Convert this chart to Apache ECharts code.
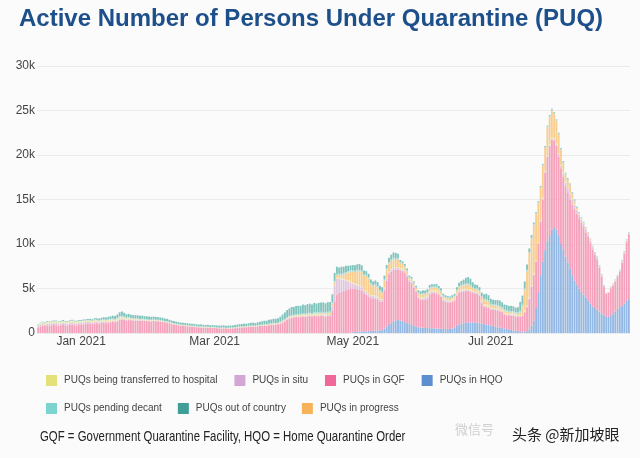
<!DOCTYPE html>
<html>
<head>
<meta charset="utf-8">
<script src="https://cdn.jsdelivr.net/npm/echarts@6/dist/echarts.min.js"></script>
<style>
html,body{margin:0;padding:0;background:#fbfbfb;}
#chart{width:640px;height:458px;}
</style>
</head>
<body>
<div id="chart"></div>
<script>
// ---- data (daily, starting 2020-12-13) ----
const startDate = '2020-12-13';

const hqo = [
0,0,0,0,0,0,0,0,0,0,0,0,0,0,0,0,0,0,0,0,
0,0,0,0,0,0,0,0,0,0,0,0,0,0,0,0,0,0,0,0,
0,0,0,0,0,0,0,0,0,0,0,0,0,0,0,0,0,0,0,0,
0,0,0,0,0,0,0,0,0,0,0,0,0,0,0,0,0,0,0,0,
0,0,0,0,0,0,0,0,0,0,0,0,0,0,0,0,0,0,0,0,
0,0,0,0,0,0,0,0,0,0,0,0,0,0,0,0,0,0,0,0,
0,0,0,0,0,0,0,0,0,0,0,0,0,0,0,0,0,0,
50,80,100,120,150,150,180,200,200,220,250,250,280,300,350,500,700,900,1100,1300,
1400,1450,1400,1350,1250,1150,1000,900,800,700,650,600,600,580,560,550,530,520,500,480,
470,450,440,440,460,500,600,800,950,1050,1100,1150,1200,1200,1200,1150,1150,1100,1050,1000,
950,900,850,800,700,650,600,550,500,450,400,350,300,250,200,
100,100,100,200,400,800,1400,2800,4500,6500,8000,9300,10300,11000,11600,11900,11600,11000,10000,9400,
8600,7900,7200,6500,5900,5400,5000,4600,4300,4000,3600,3300,3000,2800,2600,2400,2200,2000,1800,1800,
1900,2100,2400,2700,2900,3100,3300,3600,3800
];

const gqf = [
620,750,800,780,850,820,880,900,860,830,870,900,880,850,900,920,880,860,900,
950,980,1000,1020,1050,1000,1080,1100,1050,1120,1150,1100,1180,1200,1250,1220,1300,1450,1500,1480,1400,1450,
1420,1400,1380,1400,1350,1380,1360,1340,1320,1300,1350,1320,1300,1280,1250,1200,1150,1100,1000,950,
900,850,820,800,780,750,720,700,680,650,640,620,600,600,580,560,580,
560,540,520,500,520,500,480,500,520,540,580,600,620,650,640,680,700,720,700,740,
780,800,850,820,880,900,950,920,980,1050,1150,
1300,1500,1650,1700,1750,1800,1780,1820,1850,1800,1880,1900,1850,1920,1900,1880,1950,1900,1850,1900,1880,
2500,3500,4300,4500,4600,4700,4800,4900,4950,4900,4850,4800,4750,4600,4200,4100,3900,3700,3650,3600,
3500,3250,3150,4300,5200,5700,5800,5800,5700,5650,5600,5600,5500,5200,
4800,4700,4300,3900,3300,3100,3100,3150,3300,3800,3950,4000,3950,3850,3600,3200,3050,3000,2950,3000,
3050,3400,3600,3600,3550,3550,3500,3400,3300,3300,3250,3100,2300,1950,1950,1900,1800,1800,1900,1900,
1850,1800,1600,1550,1600,1600,1650,1600,1600,
1700,1800,2200,2700,3400,4400,5100,5200,5500,6000,7000,8700,9500,10000,10100,9700,9400,8800,8500,8200,
7900,7900,7800,7900,8000,8000,7900,7800,7600,7300,7200,6800,6400,6000,5600,4900,4100,3200,2600,2700,
3100,3200,3400,3600,4000,4800,5600,6600,7300
];

const inSitu = [
150,200,220,180,200,250,230,200,260,220,200,240,220,200,230,260,240,220,250,
220,200,230,210,200,180,200,170,150,160,150,140,130,120,130,110,120,100,110,100,90,100,
80,90,70,80,60,70,60,50,60,50,50,40,50,40,40,30,40,30,30,40,
30,30,20,30,20,30,20,20,30,20,20,20,30,20,20,20,30,
20,20,20,30,20,20,20,20,30,20,20,30,20,20,30,20,30,20,20,30,
30,20,30,30,40,30,40,30,40,50,60,
60,50,60,70,60,70,60,70,80,70,80,70,80,90,80,90,100,90,100,120,150,
500,1800,1800,1600,1400,1300,1100,900,700,600,500,450,400,400,350,300,300,250,250,250,
200,200,200,200,200,200,200,200,200,200,200,200,200,200,
150,150,150,150,150,200,200,200,200,200,200,150,150,150,150,150,150,150,150,150,
150,150,150,150,150,150,150,150,150,150,150,150,150,150,150,150,100,100,100,100,
100,100,100,100,100,100,100,100,100,
100,100,100,100,100,100,100,100,100,100,100,100,100,100,150,200,200,300,300,300,
400,500,600,600,500,400,400,350,350,350,300,300,250,200,250,200,200,100,50,50,
100,150,100,100,100,150,150,150,100
];

const hospital = [
100,120,150,130,160,140,150,180,160,140,150,170,160,150,170,160,150,170,160,
150,160,140,150,130,140,150,130,140,120,130,140,120,130,110,120,130,150,140,120,110,100,
80,70,60,70,60,50,60,50,60,50,50,60,50,40,50,40,50,40,40,50,
40,40,30,40,30,40,30,40,30,30,30,40,30,30,40,30,30,
30,30,20,30,30,20,30,30,20,30,30,30,40,30,30,40,30,40,30,30,
40,40,30,40,40,50,40,50,40,50,60,
60,70,60,70,80,70,80,70,80,90,80,90,80,90,100,90,100,90,100,90,100,
100,100,100,100,100,100,100,100,100,100,100,100,100,100,100,100,100,100,100,100,
100,100,100,100,100,100,100,100,100,100,100,100,100,100,
100,100,100,100,100,150,150,150,150,150,150,150,150,150,150,100,100,100,100,100,
100,100,100,100,100,100,100,100,100,100,100,100,150,150,150,150,100,100,100,100,
100,100,100,100,100,100,100,100,100,
100,100,100,100,100,100,100,100,100,100,100,100,100,100,100,100,100,100,100,100,
100,100,100,100,100,100,100,100,100,100,100,100,100,50,100,50,50,50,30,30,
50,100,50,50,50,100,100,100,50
];

const inProgress = [
0,10,0,20,10,0,20,10,20,10,0,20,10,20,10,20,10,20,10,
20,30,20,30,20,30,40,30,40,30,40,50,40,50,60,50,60,80,70,60,50,60,
50,40,50,40,50,40,30,40,30,40,30,30,40,30,30,20,30,20,30,20,
20,30,20,20,30,20,20,30,20,20,20,30,20,20,30,20,20,
20,20,10,20,20,10,20,20,20,20,20,30,20,20,30,20,30,30,20,30,
30,30,40,30,40,40,50,40,50,60,70,
60,70,60,80,70,80,90,80,90,100,90,100,110,100,110,120,110,120,130,140,150,
200,300,300,300,400,500,700,900,1100,1200,1300,1500,1500,1600,1600,1700,1600,1200,1000,1100,
1000,800,700,800,900,900,900,900,800,900,600,500,400,300,
150,200,200,200,250,250,300,250,300,300,300,300,350,300,300,200,200,200,200,200,
200,300,350,400,450,500,500,450,300,250,250,250,400,450,450,400,300,300,250,250,
250,200,200,200,150,150,150,150,150,
300,900,2300,3800,5000,5200,5400,5200,4400,3600,3600,2600,3100,3100,3050,2700,2500,2100,1700,1100,
800,800,900,500,300,150,100,50,50,50,50,50,0,0,0,0,0,0,0,0,
0,0,0,0,0,0,0,0,0
];

const pendingDecant = [
20,20,30,20,30,20,30,20,30,20,30,30,20,30,20,30,30,20,30,
30,40,30,40,50,40,50,60,50,60,70,60,70,80,70,80,90,100,110,100,90,80,
80,70,80,70,60,70,60,70,60,60,60,50,60,50,60,50,50,40,50,40,
50,40,50,40,40,50,40,40,50,40,40,50,40,40,50,40,40,
40,30,40,30,40,30,40,40,30,40,40,50,40,50,40,50,50,40,50,50,
50,60,50,60,60,70,60,70,60,70,80,
80,90,80,100,90,100,110,100,110,120,110,120,110,130,120,130,120,130,140,130,150,
150,150,150,150,150,150,150,150,150,150,150,150,150,150,150,150,150,150,150,150,
150,150,150,150,150,150,150,150,150,150,100,100,100,100,
100,100,100,100,100,100,100,100,100,100,100,100,100,100,100,100,100,100,100,100,
100,100,100,100,100,100,100,100,100,100,100,100,100,150,150,150,150,150,150,150,
150,150,150,150,150,150,150,150,150,
200,200,200,200,100,100,100,100,100,100,100,100,100,100,100,100,100,100,100,100,
100,100,100,100,100,50,50,50,50,50,0,0,0,0,0,0,0,0,0,0,
0,0,0,0,0,0,0,0,0
];

const outOfCountry = [
60,50,70,60,80,70,60,90,70,60,80,90,70,80,90,100,80,90,100,
100,110,120,130,140,150,160,180,200,220,240,260,280,300,320,340,380,450,480,420,380,360,
350,340,360,330,350,340,320,330,310,320,300,310,290,300,280,290,270,260,250,240,
240,230,230,220,220,210,220,210,200,210,200,210,200,190,200,190,200,
200,210,220,230,220,230,240,230,240,250,260,250,270,280,270,290,300,310,300,320,
340,360,380,400,420,440,460,480,500,550,650,
750,800,850,900,880,920,950,900,980,950,1000,1020,980,1050,1000,1080,1050,1100,1020,1080,1050,
900,900,800,700,800,700,700,600,550,600,600,600,700,600,450,400,400,400,400,450,
500,500,500,400,400,500,550,600,650,450,200,200,200,200,
150,150,150,150,250,300,350,350,300,300,250,250,300,250,250,200,200,150,150,200,
200,300,400,450,550,650,750,700,550,400,400,350,400,500,600,600,550,500,500,550,
600,550,550,600,550,600,550,500,600,
1000,1000,800,600,400,300,200,100,100,100,100,100,100,100,100,100,100,100,100,100,
100,100,100,100,100,100,50,50,50,50,50,50,50,50,50,50,50,50,20,20,
50,50,50,50,50,50,50,50,50
];

const yTicks = [0, 5000, 10000, 15000, 20000, 25000, 30000];
const xTickLabels = {'2021-01-01': 'Jan 2021', '2021-03-01': 'Mar 2021', '2021-05-01': 'May 2021', '2021-07-01': 'Jul 2021'};

// ---- build categories (dates) ----
const categories = [];
{
  const d0 = new Date(startDate + 'T00:00:00Z');
  for (let i = 0; i < gqf.length; i++) {
    const d = new Date(d0.getTime() + i * 86400000);
    categories.push(d.toISOString().slice(0, 10));
  }
}

const SANS = "'Liberation Sans', Arial, sans-serif";

const seriesDefs = [
  {name: 'PUQs in HQO', data: hqo, bar: '#93b8e3', legend: '#5b8fcf'},
  {name: 'PUQs in GQF', data: gqf, bar: '#f5a1bb', legend: '#f0679a'},
  {name: 'PUQs in situ', data: inSitu, bar: '#e2c6de', legend: '#d4a6d4'},
  {name: 'PUQs being transferred to hospital', data: hospital, bar: '#ece8a6', legend: '#e4e07a'},
  {name: 'PUQs in progress', data: inProgress, bar: '#f8cd8f', legend: '#f7b35a'},
  {name: 'PUQs pending decant', data: pendingDecant, bar: '#a6dedb', legend: '#7dd3d0'},
  {name: 'PUQs out of country', data: outOfCountry, bar: '#80c3bd', legend: '#3f9e97'}
];
const legendColor = {};
seriesDefs.forEach(s => legendColor[s.name] = s.legend);

function legendData(names) {
  return names.map(n => ({name: n, icon: 'rect', itemStyle: {color: legendColor[n], opacity: 1}}));
}

const chart = echarts.init(document.getElementById('chart'), null, {renderer: 'canvas'});
chart.setOption({
  animation: false,
  backgroundColor: '#fbfbfb',
  title: {
    text: 'Active Number of Persons Under Quarantine (PUQ)',
    left: 19, top: 7, padding: 0,
    textStyle: {fontSize: 24, fontWeight: 'bold', color: '#1d4f8b', fontFamily: SANS}
  },
  grid: {left: 37, right: 10, top: 66, bottom: 125},
  xAxis: {
    type: 'category',
    data: categories,
    boundaryGap: true,
    axisLine: {show: false},
    axisTick: {show: false},
    splitLine: {show: false},
    axisLabel: {
      interval: (idx, val) => xTickLabels.hasOwnProperty(val),
      formatter: val => xTickLabels[val] || '',
      margin: 3,
      fontSize: 12,
      color: '#444',
      fontFamily: SANS
    }
  },
  yAxis: {
    type: 'value',
    min: yTicks[0], max: yTicks[yTicks.length - 1], interval: 5000,
    axisLine: {show: false},
    axisTick: {show: false},
    splitLine: {lineStyle: {color: '#ebebeb', width: 1}},
    axisLabel: {
      margin: 2,
      fontSize: 12,
      color: '#444',
      fontFamily: SANS,
      formatter: v => v === 0 ? '0' : (v / 1000) + 'k'
    }
  },
  legend: [
    {
      left: 41, top: 370, itemWidth: 11, itemHeight: 11, itemGap: 17,
      textStyle: {fontSize: 10, color: '#444', fontFamily: SANS, padding: [0, 0, 0, 2]},
      data: legendData(['PUQs being transferred to hospital', 'PUQs in situ', 'PUQs in GQF', 'PUQs in HQO']),
      selectedMode: false
    },
    {
      left: 41, top: 398, itemWidth: 11, itemHeight: 11, itemGap: 16,
      textStyle: {fontSize: 10, color: '#444', fontFamily: SANS, padding: [0, 0, 0, 2]},
      data: legendData(['PUQs pending decant', 'PUQs out of country', 'PUQs in progress']),
      selectedMode: false
    }
  ],
  graphic: [
    {type: 'text', x: 40, y: 429, scaleX: 0.76, scaleY: 1,
     style: {text: 'GQF = Government Quarantine Facility, HQO = Home Quarantine Order', fontSize: 15, fill: '#222', fontFamily: SANS}},
    {type: 'text', x: 455, y: 423,
     style: {text: '微信号', fontSize: 13, fill: '#cfcfcf', fontFamily: "'Noto Sans CJK SC', sans-serif"}},
    {type: 'text', x: 512, y: 427,
     style: {text: '头条 @新加坡眼', fontSize: 15, fill: '#222', fontFamily: "'Noto Sans CJK SC', sans-serif"}}
  ],
  series: seriesDefs.map(s => ({
    name: s.name,
    type: 'bar',
    stack: 'puq',
    data: s.data,
    barCategoryGap: '18%',
    itemStyle: {color: s.bar},
    emphasis: {disabled: true}
  }))
});
</script>
</body>
</html>
